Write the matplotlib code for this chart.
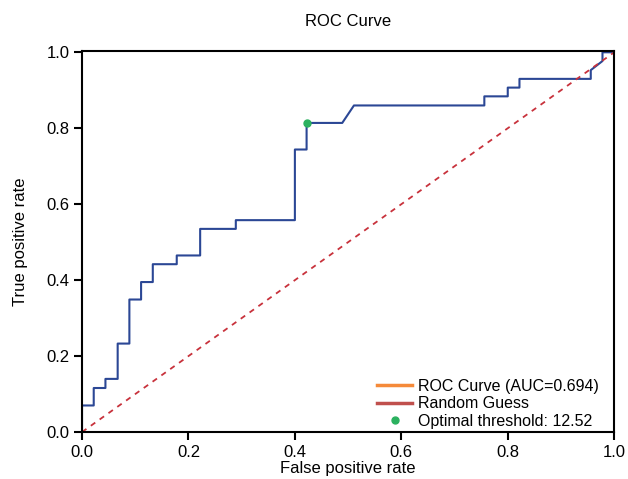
import matplotlib
matplotlib.use("Agg")
import matplotlib.pyplot as plt
from matplotlib.lines import Line2D

# ROC curve vertices
fpr = [0.0, 0.0, 0.022, 0.022, 0.044, 0.044, 0.067, 0.067, 0.089, 0.089,
       0.111, 0.111, 0.133, 0.133, 0.178, 0.178, 0.222, 0.222, 0.289, 0.289,
       0.400, 0.400, 0.422, 0.422, 0.489, 0.511, 0.756, 0.756, 0.800, 0.800,
       0.822, 0.822, 0.956, 0.956, 0.978, 0.978, 1.0]
tpr = [0.0, 0.070, 0.070, 0.116, 0.116, 0.140, 0.140, 0.233, 0.233, 0.349,
       0.349, 0.395, 0.395, 0.442, 0.442, 0.465, 0.465, 0.535, 0.535, 0.558,
       0.558, 0.744, 0.744, 0.814, 0.814, 0.860, 0.860, 0.884, 0.884, 0.907,
       0.907, 0.930, 0.930, 0.953, 0.977, 1.0, 1.0]
optimal_point = (0.422, 0.814)
auc_value = 0.694
optimal_threshold = 12.52

plt.rcParams['font.family'] = ['Liberation Sans', 'DejaVu Sans']

fig = plt.figure(figsize=(6.28, 4.79), dpi=100)
ax = fig.add_axes([0.1306, 0.098, 0.8474, 0.796])

ax.plot(fpr, tpr, color='#2b4795', linewidth=1.5)
ax.plot([0, 1], [0, 1], linestyle='--', color='#c8323c', linewidth=1.3, dashes=(3, 3))
ax.plot(*optimal_point, 'o', color='#2bb15f', markersize=5)

ax.set_xlim(0, 1)
ax.set_ylim(0, 1.004)
ax.set_xticks([0, 0.2, 0.4, 0.6, 0.8, 1.0])
ax.set_yticks([0, 0.2, 0.4, 0.6, 0.8, 1.0])
ax.set_xticklabels(['0.0', '0.2', '0.4', '0.6', '0.8', '1.0'])
ax.set_yticklabels(['0.0', '0.2', '0.4', '0.6', '0.8', '1.0'])
ax.tick_params(direction='out', length=6, width=1.5, labelsize=12, pad=3)
for sp in ax.spines.values():
    sp.set_linewidth(1.5)

ax.set_title("ROC Curve", fontsize=12, pad=18)
ax.set_xlabel("False positive rate", fontsize=12, labelpad=1)
ax.set_ylabel("True positive rate", fontsize=12, labelpad=13)

handles = [
    Line2D([], [], color='#f58a3a', linewidth=2.5),
    Line2D([], [], color='#c0504d', linewidth=2.5),
    Line2D([], [], color='#2bb15f', marker='o', linestyle='None', markersize=5),
]
labels = [f"ROC Curve (AUC={auc_value})", "Random Guess",
          f"Optimal threshold: {optimal_threshold}"]
ax.legend(handles, labels, loc='lower right', bbox_to_anchor=(0.992, -0.02),
          frameon=False, fontsize=11.5, handlelength=2.2, handletextpad=0.35,
          labelspacing=0.15, borderaxespad=0.3)

fig.savefig("out.png", dpi=100)
